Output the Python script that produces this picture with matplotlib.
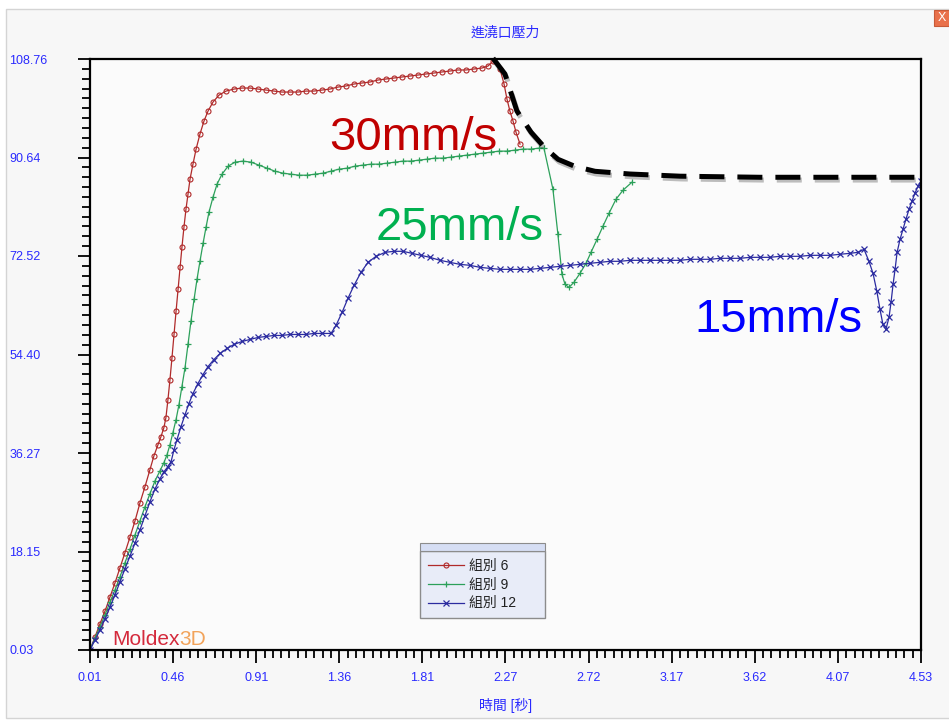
import numpy as np
import matplotlib
matplotlib.use("Agg")
import matplotlib.pyplot as plt
import matplotlib.patheffects as pe
from matplotlib.patches import Rectangle

plt.rcParams['font.family'] = ['Liberation Sans', 'Noto Sans CJK TC', 'DejaVu Sans']

# 組別 6 (30mm/s)
x6 = [0.01, 0.037, 0.064, 0.092, 0.119, 0.146, 0.173, 0.200, 0.228, 0.255, 0.282, 0.309, 0.336,
      0.358, 0.380, 0.396, 0.412, 0.423, 0.434, 0.445, 0.456, 0.467, 0.478, 0.489, 0.500, 0.510,
      0.521, 0.532, 0.543, 0.554, 0.570, 0.587, 0.608, 0.630, 0.652, 0.679, 0.712, 0.750, 0.793,
      0.837, 0.880, 0.924, 0.967, 1.011, 1.054, 1.098, 1.141, 1.185, 1.228, 1.272, 1.315, 1.359,
      1.402, 1.446, 1.489, 1.533, 1.576, 1.620, 1.663, 1.707, 1.750, 1.794, 1.837, 1.881, 1.924,
      1.968, 2.011, 2.055, 2.099, 2.142, 2.175, 2.202, 2.240, 2.262, 2.278, 2.294, 2.311, 2.327, 2.349]
y6 = [0.03, 2.43, 4.82, 7.22, 9.80, 12.38, 15.14, 17.91, 20.85, 23.80, 27.12, 30.07, 33.20,
      35.78, 37.81, 39.28, 40.94, 42.79, 46.10, 49.79, 53.84, 58.08, 62.32, 66.37, 70.43, 74.11,
      77.80, 81.12, 83.88, 86.65, 89.41, 92.18, 94.94, 97.34, 99.18, 100.84, 102.13, 102.86, 103.23,
      103.42, 103.42, 103.23, 103.05, 102.86, 102.68, 102.68, 102.68, 102.86, 102.86, 103.05, 103.23, 103.60,
      103.79, 104.16, 104.34, 104.53, 104.89, 105.08, 105.26, 105.45, 105.63, 105.81, 106.00, 106.18, 106.37,
      106.55, 106.74, 106.74, 106.92, 107.10, 107.47, 108.39, 106.92, 104.16, 101.39, 99.18, 97.34, 95.31, 93.10]

# 組別 9 (25mm/s)
x9 = [0.01, 0.037, 0.064, 0.092, 0.119, 0.146, 0.173, 0.200, 0.228, 0.255, 0.282, 0.309, 0.336,
      0.364, 0.391, 0.412, 0.429, 0.445, 0.461, 0.478, 0.494, 0.510, 0.527, 0.543, 0.559, 0.576,
      0.592, 0.608, 0.625, 0.641, 0.657, 0.679, 0.701, 0.728, 0.761, 0.799, 0.842, 0.886, 0.929,
      0.973, 1.016, 1.060, 1.103, 1.147, 1.190, 1.234, 1.277, 1.321, 1.364, 1.408, 1.451, 1.495,
      1.538, 1.582, 1.625, 1.669, 1.712, 1.756, 1.799, 1.843, 1.886, 1.930, 1.973, 2.017, 2.060,
      2.104, 2.148, 2.191, 2.235, 2.278, 2.322, 2.365, 2.409, 2.452, 2.479, 2.528, 2.555, 2.577,
      2.594, 2.615, 2.642, 2.675, 2.708, 2.735, 2.768, 2.800, 2.833, 2.871, 2.909, 2.958]
y9 = [0.03, 2.24, 4.27, 6.48, 8.88, 11.09, 13.48, 16.06, 18.64, 21.22, 23.80, 26.38, 28.78,
      31.18, 33.02, 34.49, 35.96, 37.81, 40.02, 42.42, 45.18, 48.50, 52.00, 56.24, 60.48, 64.53,
      68.22, 71.53, 74.85, 77.80, 80.56, 83.33, 85.73, 87.57, 89.04, 89.78, 89.97, 89.78, 89.23,
      88.67, 88.12, 87.75, 87.57, 87.38, 87.38, 87.57, 87.75, 88.12, 88.49, 88.67, 89.04, 89.23,
      89.41, 89.41, 89.60, 89.78, 89.97, 89.97, 90.15, 90.33, 90.52, 90.52, 90.70, 90.89, 91.07,
      91.26, 91.44, 91.62, 91.81, 91.81, 91.99, 92.18, 92.18, 92.36, 92.36, 84.80, 76.51, 69.14,
      67.29, 66.74, 67.66, 69.32, 71.17, 73.19, 75.59, 77.99, 80.38, 82.96, 84.62, 86.10]

# 組別 12 (15mm/s)
x12 = [0.01, 0.037, 0.064, 0.092, 0.119, 0.146, 0.173, 0.200, 0.228, 0.255, 0.282, 0.309, 0.336,
       0.364, 0.391, 0.412, 0.434, 0.451, 0.467, 0.483, 0.505, 0.527, 0.548, 0.570, 0.597, 0.625,
       0.652, 0.684, 0.717, 0.755, 0.793, 0.837, 0.880, 0.924, 0.967, 1.011, 1.054, 1.098, 1.141,
       1.185, 1.228, 1.272, 1.321, 1.348, 1.381, 1.413, 1.446, 1.484, 1.522, 1.566, 1.615, 1.663,
       1.712, 1.761, 1.810, 1.859, 1.914, 1.968, 2.022, 2.077, 2.131, 2.186, 2.240, 2.294, 2.349,
       2.403, 2.458, 2.512, 2.566, 2.621, 2.675, 2.729, 2.784, 2.838, 2.893, 2.947, 3.001, 3.056,
       3.110, 3.165, 3.219, 3.273, 3.328, 3.382, 3.437, 3.491, 3.545, 3.600, 3.654, 3.708, 3.763,
       3.817, 3.872, 3.926, 3.980, 4.035, 4.089, 4.144, 4.187, 4.220, 4.247, 4.269, 4.290, 4.307,
       4.323, 4.339, 4.356, 4.367, 4.378, 4.389, 4.400, 4.416, 4.432, 4.448, 4.465, 4.481, 4.497,
       4.514, 4.530]
y12 = [0.03, 1.87, 3.72, 5.74, 7.95, 10.17, 12.56, 14.96, 17.35, 19.75, 22.14, 24.73, 27.30,
       29.70, 31.54, 32.83, 33.76, 34.68, 36.89, 38.73, 41.13, 43.34, 45.36, 47.21, 49.05, 50.71,
       52.18, 53.47, 54.58, 55.50, 56.24, 56.79, 57.16, 57.53, 57.71, 57.90, 57.90, 58.08, 58.08,
       58.08, 58.27, 58.27, 58.27, 59.74, 62.14, 64.72, 67.11, 69.51, 71.35, 72.46, 73.19, 73.38,
       73.38, 73.01, 72.64, 72.27, 71.72, 71.35, 70.98, 70.80, 70.43, 70.24, 70.06, 70.06, 70.06,
       70.06, 70.24, 70.43, 70.61, 70.80, 70.98, 71.17, 71.35, 71.54, 71.54, 71.72, 71.72, 71.72,
       71.72, 71.72, 71.72, 71.91, 71.91, 71.91, 72.09, 72.09, 72.09, 72.27, 72.27, 72.27, 72.46,
       72.46, 72.46, 72.64, 72.64, 72.64, 72.83, 73.01, 73.19, 73.75, 71.54, 69.32, 66.00, 62.69,
       59.92, 59.00, 61.21, 63.98, 67.29, 70.06, 73.19, 75.59, 77.43, 79.27, 81.12, 82.59, 84.07,
       85.36, 86.28]

# dashed envelope drawn over the chart
env_x = [2.202, 2.267, 2.332, 2.409, 2.485, 2.556, 2.648, 2.757, 2.947, 3.219, 3.654, 4.530]
env_y = [108.9, 106.0, 99.2, 95.3, 92.4, 90.3, 89.0, 88.1, 87.6, 87.2, 87.0, 87.0]

xticks = np.linspace(0.01, 4.53, 11)
xtick_labels = ["0.01", "0.46", "0.91", "1.36", "1.81", "2.27", "2.72", "3.17", "3.62", "4.07", "4.53"]
yticks = np.linspace(0.03, 108.76, 7)
ytick_labels = ["0.03", "18.15", "36.27", "54.40", "72.52", "90.64", "108.76"]

W, H = 949, 724
fig = plt.figure(figsize=(W / 100, H / 100), dpi=100)
fig.patch.set_facecolor("white")
# window frame
fig.patches.append(Rectangle((6 / W, 1 - 718 / H), 950 / W, 709 / H, transform=fig.transFigure,
                             facecolor="#f7f7f7", edgecolor="#d4d4d4", lw=1, zorder=-10))
# close button
fig.patches.append(Rectangle((934 / W, 1 - 26 / H), 17 / W, 16 / H, transform=fig.transFigure,
                             facecolor="#e9714b", edgecolor="#c85a38", lw=0.8))
fig.text(942 / W, 1 - 18 / H, "X", color="white", fontsize=9, ha="center", va="center")

ax = fig.add_axes([90 / W, 1 - 650 / H, 831 / W, 591 / H])
ax.set_facecolor("#fbfbfb")

ax.plot(x6, y6, color="#b02a2a", lw=0.9, marker="o", ms=3.6, mfc="none", mew=0.8, label="組別 6")
ax.plot(x9, y9, color="#2ca05a", lw=0.9, marker="+", ms=5, mew=0.9, label="組別 9")
ax.plot(x12, y12, color="#2b2ba0", lw=0.9, marker="x", ms=3.8, mew=0.9, label="組別 12")

ax.plot(env_x, env_y, color="black", lw=3.6, dashes=(5, 2.6), clip_on=False, zorder=5,
        path_effects=[pe.SimpleLineShadow(offset=(1, -2), alpha=0.25), pe.Normal()])

ax.text(1.767, 92.0, "30mm/s", color="#c00000", fontsize=34, ha="center", va="baseline")
ax.text(2.022, 75.4, "25mm/s", color="#00b050", fontsize=34, ha="center", va="baseline")
ax.text(3.752, 58.45, "15mm/s", color="#0000ff", fontsize=34, ha="center", va="baseline")

# Moldex3D logo
t1 = ax.text(0.0265, 0.009, "Moldex", transform=ax.transAxes, color="#d42a3c", fontsize=15,
             va="baseline")
ax.annotate("3D", xy=(1, 0), xycoords=t1, color="#f2a35a", fontsize=15, va="bottom")

ax.set_xlim(0.01, 4.53)
ax.set_ylim(0.03, 108.76)
ax.set_xticks(xticks)
ax.set_xticklabels(xtick_labels)
ax.set_yticks(yticks)
ax.set_yticklabels(ytick_labels)
ax.set_xticks(np.linspace(0.01, 4.53, 101), minor=True)
ax.set_yticks(np.linspace(0.03, 108.76, 61), minor=True)
for lab in ax.get_yticklabels():
    lab.set_horizontalalignment("left")

ax.tick_params(which="both", direction="out", color="black", width=1.3, labelcolor="#2a2aff",
               labelsize=9)
ax.tick_params(which="major", length=9)
ax.tick_params(which="minor", length=6)
ax.tick_params(axis="y", which="major", pad=49)
ax.tick_params(axis="x", which="major", pad=7)
for s in ax.spines.values():
    s.set_linewidth(1.6)
    s.set_color("black")

ax.set_title("進澆口壓力", color="#2a2aff", fontsize=10, pad=16)
ax.set_xlabel("時間 [秒]", color="#2a2aff", fontsize=10, labelpad=10)

leg = ax.legend(loc="upper left", bbox_to_anchor=(420 / W, 1 - 622 / H, 125 / W, 71 / H),
                bbox_transform=fig.transFigure, mode="expand", borderaxespad=0, fontsize=10,
                numpoints=1, handlelength=2.6, handletextpad=0.4, labelspacing=0.35,
                borderpad=0.55, fancybox=False, framealpha=1)
leg.get_frame().set_facecolor("#e8ecf8")
leg.get_frame().set_edgecolor("#8c8c8c")
for t in leg.get_texts():
    t.set_color("#202020")
# legend header strip
fig.patches.append(Rectangle((420 / W, 1 - 551 / H), 125 / W, 8 / H, transform=fig.transFigure,
                             facecolor="#d6def4", edgecolor="#8c8c8c", lw=0.8, zorder=10))

fig.savefig("out.png", dpi=100)
